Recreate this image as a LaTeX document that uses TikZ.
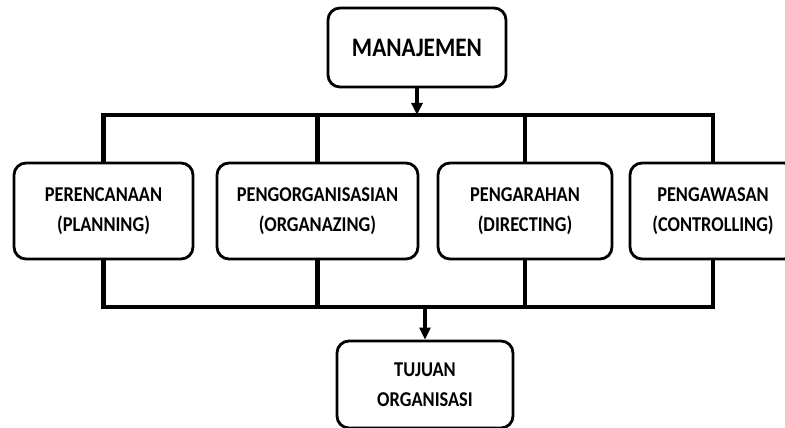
\documentclass[tikz,border=0pt]{standalone}
\usepackage{fontspec}
\setmainfont{Carlito}[FakeStretch=0.87]
\usetikzlibrary{arrows.meta}
\begin{document}
\begin{tikzpicture}[x=0.025cm, y=-0.025cm,
    box/.style={draw, line width=2pt, rounded corners=0.3cm, align=center,
                font=\fontsize{15}{21}\selectfont\bfseries, inner sep=0pt},
    bus/.style={line width=3.2pt},
    arrow/.style={line width=2.2pt, -{Triangle[length=0.3cm, width=0.27cm]}}]
    \useasboundingbox (0,0) rectangle (785,428);
    % boxes
    \node[box, font=\fontsize{19}{23}\selectfont\bfseries, minimum width=178*0.025cm, minimum height=79*0.025cm] (manajemen) at (417,47.5) {MANAJEMEN};
    \node[box, minimum width=179*0.025cm, minimum height=96*0.025cm] (perencanaan) at (103.5,211) {PERENCANAAN\\(PLANNING)};
    \node[box, minimum width=201*0.025cm, minimum height=96*0.025cm] (pengorganisasian) at (317.5,211) {PENGORGANISASIAN\\(ORGANAZING)};
    \node[box, minimum width=174*0.025cm, minimum height=96*0.025cm] (pengarahan) at (525,211) {PENGARAHAN\\(DIRECTING)};
    \node[box, minimum width=166*0.025cm, minimum height=96*0.025cm] (pengawasan) at (713,211) {PENGAWASAN\\(CONTROLLING)};
    \node[box, minimum width=176*0.025cm, minimum height=87*0.025cm] (tujuan) at (425,384.5) {TUJUAN\\ORGANISASI};
    \coordinate (atas) at (0,115);
    \coordinate (bawah) at (0,307);
    % top bus
    \draw[arrow] (manajemen.south) -- (manajemen.south |- atas);
    \draw[bus] (perencanaan.north) |- (pengawasan.north |- atas) -- (pengawasan.north);
    \draw[bus] (pengorganisasian.north) -- (pengorganisasian.north |- atas);
    \draw[bus] (pengarahan.north) -- (pengarahan.north |- atas);
    % bottom bus
    \draw[bus] (perencanaan.south) |- (pengawasan.south |- bawah) -- (pengawasan.south);
    \draw[bus] (pengorganisasian.south) -- (pengorganisasian.south |- bawah);
    \draw[bus] (pengarahan.south) -- (pengarahan.south |- bawah);
    \draw[arrow] (tujuan.north |- bawah) -- (tujuan.north);
\end{tikzpicture}
\end{document}
